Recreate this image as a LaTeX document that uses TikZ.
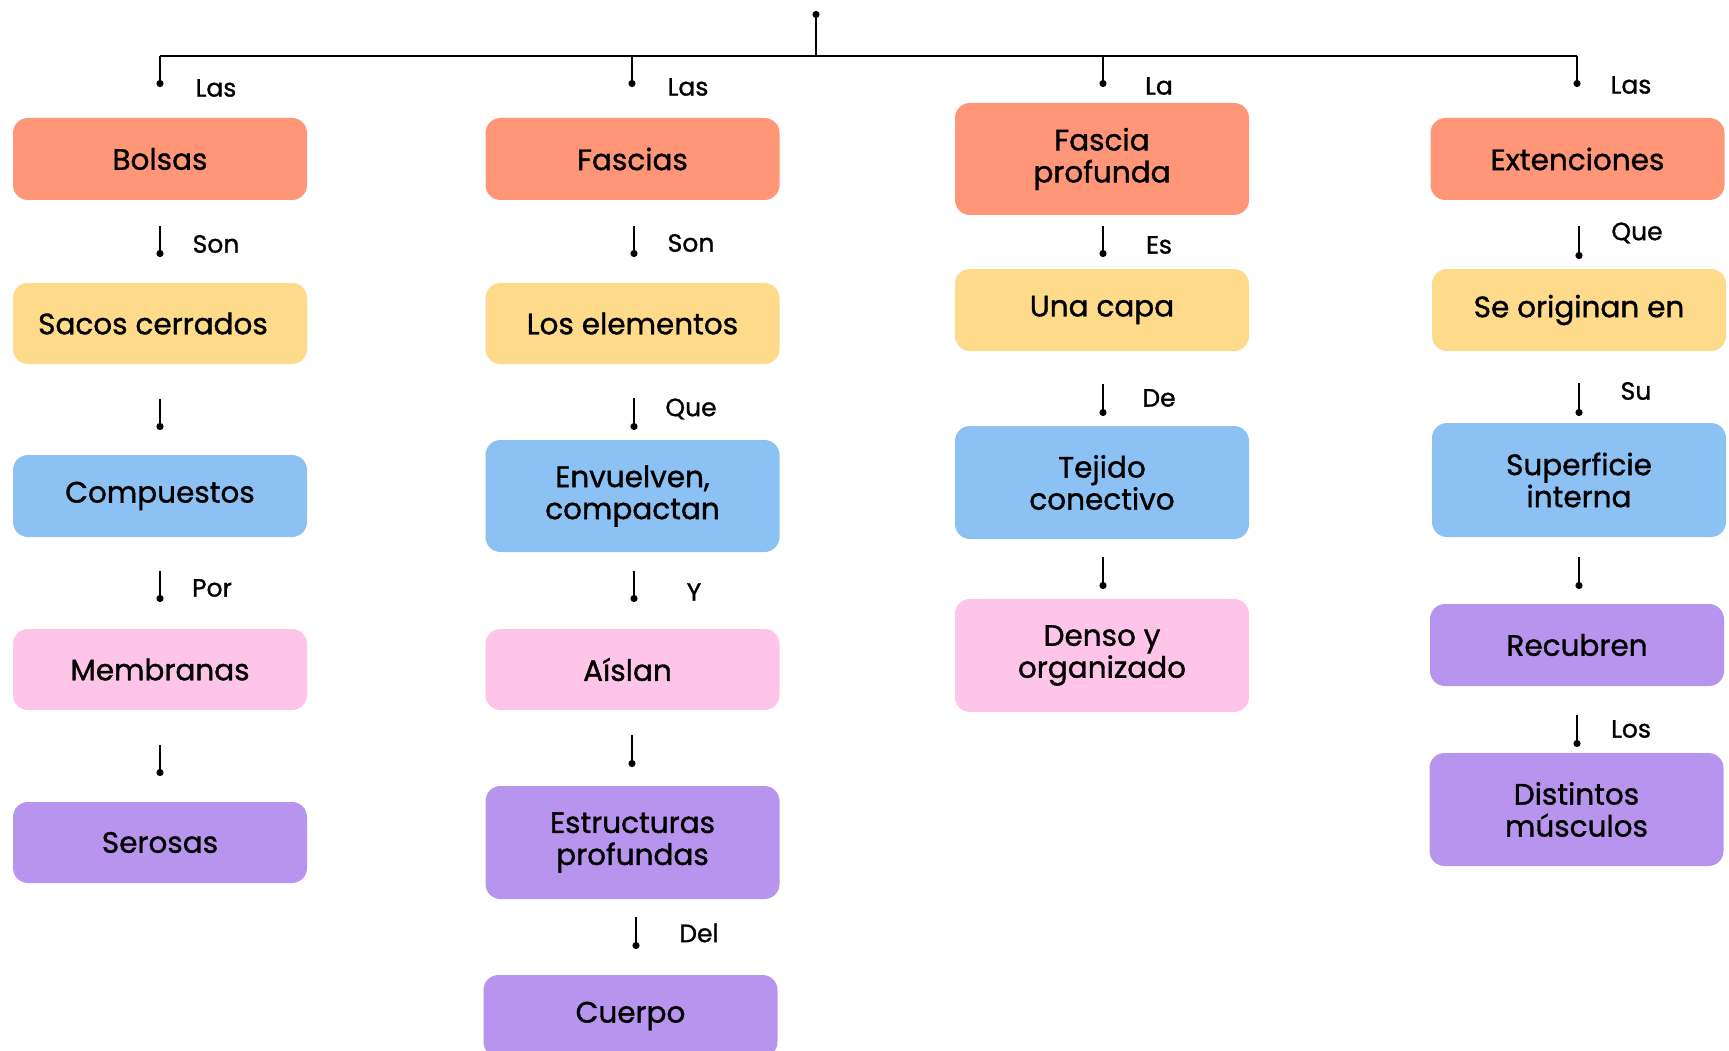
\documentclass[tikz,border=0pt]{standalone}
\usepackage{fontspec}
\setmainfont{Poppins}
\newfontfamily\medfont{Poppins}[FakeBold=1.2]
\usetikzlibrary{arrows.meta}
\definecolor{salmon}{RGB}{255,150,120}
\definecolor{sand}{RGB}{254,218,139}
\definecolor{sky}{RGB}{139,193,243}
\definecolor{blush}{RGB}{255,197,232}
\definecolor{lilac}{RGB}{183,149,238}
\tikzset{
  box/.style={rounded corners=15pt, inner sep=0pt, align=center, minimum width=294pt,
    font=\medfont\fontsize{29.5}{32}\selectfont, text=black},
  lab/.style={font=\medfont\fontsize{25}{28}\selectfont, inner sep=0pt, anchor=center},
  stub/.style={line width=2pt, -{Circle[length=7pt,width=7pt]}},
  trunk/.style={line width=2pt}
}
\begin{document}
\begin{tikzpicture}[x=1pt,y=-1pt]
\useasboundingbox (0,0) rectangle (1729,1051);
\clip (0,0) rectangle (1729,1051);
% ---- boxes column 1
\node[box, fill=salmon, minimum height=82pt] (b1) at (160,159) {Bolsas};
\node[box, fill=sand, minimum height=81pt] (b2) at (160,323.5) {Sacos cerrados\hspace*{14pt}};
\node[box, fill=sky, minimum height=82pt] (b3) at (160,496) {Compuestos};
\node[box, fill=blush, minimum height=81pt] (b4) at (160,669.5) {Membranas};
\node[box, fill=lilac, minimum height=81pt] (b5) at (160,842.5) {Serosas};
% ---- column 2
\node[box, fill=salmon, minimum height=82pt] (f1) at (632.5,159) {Fascias};
\node[box, fill=sand, minimum height=81pt] (f2) at (632.5,323.5) {Los elementos};
\node[box, fill=sky, minimum height=112pt] (f3) at (632.5,496) {Envuelven,\\compactan};
\node[box, fill=blush, minimum height=81pt] (f4) at (632.5,669.5) {Aíslan\hspace*{10pt}};
\node[box, fill=lilac, minimum height=113pt] (f5) at (632.5,842.5) {Estructuras\\profundas};
\node[box, fill=lilac, minimum height=82pt] (f6) at (630.5,1016) {Cuerpo};
% ---- column 3
\node[box, fill=salmon, minimum height=112pt] (p1) at (1102,159) {Fascia\\profunda};
\node[box, fill=sand, minimum height=82pt] (p2) at (1102,310) {Una capa};
\node[box, fill=sky, minimum height=113pt] (p3) at (1102,482.5) {Tejido\\conectivo};
\node[box, fill=blush, minimum height=113pt] (p4) at (1102,655.5) {Denso y\\organizado};
% ---- column 4
\node[box, fill=salmon, minimum height=82pt] (e1) at (1577.5,159) {Extenciones};
\node[box, fill=sand, minimum height=82pt] (e2) at (1579,310) {Se originan en};
\node[box, fill=sky, minimum height=114pt] (e3) at (1579,480) {Superficie\\interna};
\node[box, fill=lilac, minimum height=82pt] (e4) at (1577,645) {Recubren};
\node[box, fill=lilac, minimum height=113pt] (e5) at (1576.5,809.5) {Distintos\\músculos};
% ---- trunk
\coordinate (root) at (816,11);
\coordinate (rj) at (816,56);
\coordinate (hl) at (160,56);
\coordinate (hr) at (1577,56);
\draw[trunk, {Circle[length=7pt,width=7pt]}-] (root) -- (rj);
\draw[trunk] (hl) -- (hr);
\coordinate (d1t) at (160,56);  \coordinate (d1b) at (160,87);
\coordinate (d2t) at (632,56);  \coordinate (d2b) at (632,87);
\coordinate (d3t) at (1103,56); \coordinate (d3b) at (1103,87);
\coordinate (d4t) at (1577,56); \coordinate (d4b) at (1577,87);
\draw[stub] (d1t) -- (d1b);
\draw[stub] (d2t) -- (d2b);
\draw[stub] (d3t) -- (d3b);
\draw[stub] (d4t) -- (d4b);
\node[lab] (l1) at (216,88) {Las};
\node[lab] (l2) at (688,87) {Las};
\node[lab] (l3) at (1159,86) {La};
\node[lab] (l4) at (1631,85) {Las};
% ---- column 1 stubs
\coordinate (a1t) at (160,226); \coordinate (a1b) at (160,257);
\coordinate (a2t) at (160,399); \coordinate (a2b) at (160,430);
\coordinate (a3t) at (160,571); \coordinate (a3b) at (160,602);
\coordinate (a4t) at (160,745); \coordinate (a4b) at (160,776);
\draw[stub] (a1t) -- (a1b);
\draw[stub] (a2t) -- (a2b);
\draw[stub] (a3t) -- (a3b);
\draw[stub] (a4t) -- (a4b);
\node[lab] (la1) at (216,244) {Son};
\node[lab] (la3) at (212,588) {Por};
% ---- column 2 stubs
\coordinate (c1t) at (634,226); \coordinate (c1b) at (634,257);
\coordinate (c2t) at (634,398); \coordinate (c2b) at (634,430);
\coordinate (c3t) at (634,571); \coordinate (c3b) at (634,602);
\coordinate (c4t) at (632,735); \coordinate (c4b) at (632,767);
\coordinate (c5t) at (636,917); \coordinate (c5b) at (636,949);
\draw[stub] (c1t) -- (c1b);
\draw[stub] (c2t) -- (c2b);
\draw[stub] (c3t) -- (c3b);
\draw[stub] (c4t) -- (c4b);
\draw[stub] (c5t) -- (c5b);
\node[lab] (lc1) at (691,243) {Son};
\node[lab] (lc2) at (691,409) {Que};
\node[lab] (lc3) at (694,592) {Y};
\node[lab] (lc5) at (699,933) {Del};
% ---- column 3 stubs
\coordinate (g1t) at (1103,226); \coordinate (g1b) at (1103,257);
\coordinate (g2t) at (1103,384); \coordinate (g2b) at (1103,416);
\coordinate (g3t) at (1103,557); \coordinate (g3b) at (1103,589);
\draw[stub] (g1t) -- (g1b);
\draw[stub] (g2t) -- (g2b);
\draw[stub] (g3t) -- (g3b);
\node[lab] (lg1) at (1159,245) {Es};
\node[lab] (lg2) at (1159,398) {De};
% ---- column 4 stubs
\coordinate (h1t) at (1579,226); \coordinate (h1b) at (1579,259);
\coordinate (h2t) at (1579,383); \coordinate (h2b) at (1579,416);
\coordinate (h3t) at (1579,557); \coordinate (h3b) at (1579,589);
\coordinate (h4t) at (1577,715); \coordinate (h4b) at (1577,747);
\draw[stub] (h1t) -- (h1b);
\draw[stub] (h2t) -- (h2b);
\draw[stub] (h3t) -- (h3b);
\draw[stub] (h4t) -- (h4b);
\node[lab] (lh1) at (1637,233) {Que};
\node[lab] (lh2) at (1636,391) {Su};
\node[lab] (lh4) at (1631,729) {Los};
\end{tikzpicture}
\end{document}
